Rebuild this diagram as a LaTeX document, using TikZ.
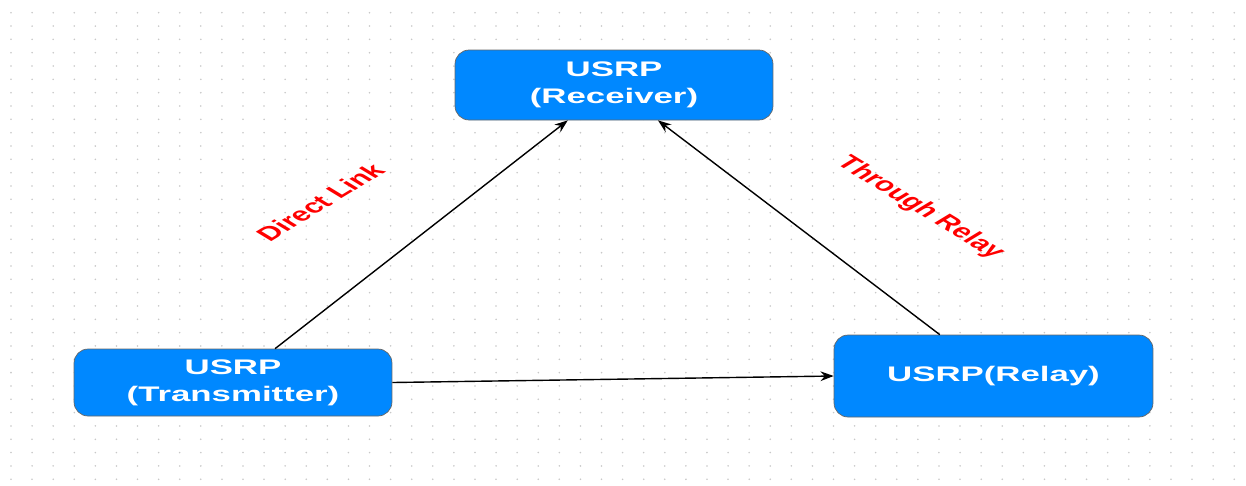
\documentclass[tikz,border=0pt]{standalone}
\usepackage{fontspec}
\setmainfont{Liberation Sans}
\usetikzlibrary{arrows.meta,calc}
\definecolor{usrpblue}{RGB}{0,136,255}
\definecolor{dotgray}{RGB}{200,200,200}
\newcommand{\wide}[1]{\scalebox{1.65}[1]{#1}}
\begin{document}
\begin{tikzpicture}[x=0.02cm, y=-0.02cm, line join=round, >={Stealth[length=7.5pt,width=5.5pt]},
	usrp/.style={draw=black!60, fill=usrpblue, rounded corners=8pt, text=white, align=center, inner sep=0pt,
		font=\bfseries\fontsize{12}{15.5}\selectfont},
	lbl/.style={text=red, inner sep=0pt, font=\bfseries\fontsize{11}{13}\selectfont},
	link/.style={->, line width=0.8pt}]
	\fill[white] (0,0) rectangle (1246,485);
	\useasboundingbox (0,0) rectangle (1246,485);
	% dotted grid
	\foreach \i in {0,...,58}
		\foreach \j in {0,...,35}
			\fill[dotgray] (11+21.09*\i,12.7+13.33*\j) circle (0.5pt);
	% boxes
	\node[usrp, minimum width=6.36cm, minimum height=1.4cm] (rx) at (614,85) {\wide{USRP}\\\wide{(Receiver)}};
	\node[usrp, minimum width=6.36cm, minimum height=1.34cm] (tx) at (233,382.5) {\wide{USRP}\\\wide{(Transmitter)}};
	\node[usrp, minimum width=6.38cm, minimum height=1.64cm] (rl) at (993.5,376) {\wide{USRP(Relay)}};
	% links
	\draw[link] ($(tx.north west)!.632!(tx.north east)$) -- ($(rx.south west)!.355!(rx.south east)$);
	\draw[link] ($(rl.north west)!.332!(rl.north east)$) -- ($(rx.south west)!.638!(rx.south east)$);
	\draw[link] (tx.east) -- (rl.west);
	% labels
	\node[lbl] (direct) at (320,202) {\wide{\rotatebox{45}{Direct Link}}};
	\node[lbl] (relay) at (920,208) {\wide{\rotatebox{-45}{Through Relay}}};
\end{tikzpicture}
\end{document}
